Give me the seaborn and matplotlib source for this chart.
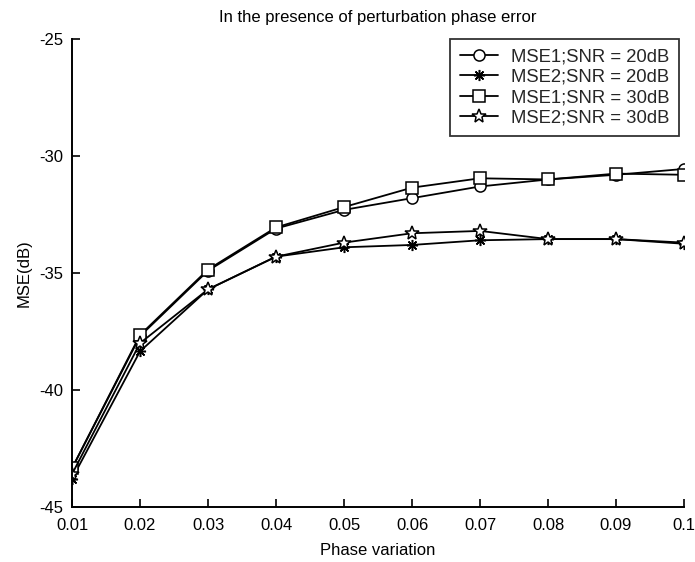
import numpy as np
import pandas as pd
import matplotlib
matplotlib.use("Agg")
import matplotlib.pyplot as plt
import seaborn as sns

# Phase variation levels
phase = [0.01, 0.02, 0.03, 0.04, 0.05, 0.06, 0.07, 0.08, 0.09, 0.10]

# MSE in dB for each estimator / SNR combination
mse1_20 = [-43.35, -37.70, -34.90, -33.10, -32.30, -31.80, -31.30, -31.00, -30.80, -30.55]
mse2_20 = [-43.80, -38.35, -35.70, -34.30, -33.90, -33.80, -33.60, -33.55, -33.55, -33.75]
mse1_30 = [-43.35, -37.65, -34.85, -33.05, -32.18, -31.35, -30.95, -31.00, -30.75, -30.80]
mse2_30 = [-43.60, -38.00, -35.70, -34.30, -33.70, -33.30, -33.20, -33.55, -33.55, -33.70]

labels = ["MSE1;SNR = 20dB", "MSE2;SNR = 20dB", "MSE1;SNR = 30dB", "MSE2;SNR = 30dB"]
xticks = [0.01, 0.02, 0.03, 0.04, 0.05, 0.06, 0.07, 0.08, 0.09, 0.1]
xtick_labels = ["0.01", "0.02", "0.03", "0.04", "0.05", "0.06", "0.07", "0.08", "0.09", "0.1"]
yticks = [-45, -40, -35, -30, -25]

sns.set_theme(style="white")
plt.rcParams["font.family"] = ["Liberation Sans", "DejaVu Sans"]
plt.rcParams["axes.unicode_minus"] = False

frames = []
for lab, vals in zip(labels, [mse1_20, mse2_20, mse1_30, mse2_30]):
    frames.append(pd.DataFrame({"phase": phase, "mse": vals, "series": lab}))
df = pd.concat(frames, ignore_index=True)

fig = plt.figure(figsize=(6.95, 5.62), dpi=100)
ax = fig.add_axes([0.1036, 0.098, 0.8806, 0.8324])

asterisk = (8, 2, 0)
styles = {
    labels[0]: dict(marker="o", ms=8, mfc="white"),
    labels[1]: dict(marker=asterisk, ms=8, mfc="black"),
    labels[2]: dict(marker="s", ms=8, mfc="white"),
    labels[3]: dict(marker="*", ms=10, mfc="white"),
}
for lab in labels:
    sub = df[df["series"] == lab]
    st = styles[lab]
    sns.lineplot(data=sub, x="phase", y="mse", ax=ax, color="black", lw=1.3,
                 marker=st["marker"], markersize=st["ms"], markerfacecolor=st["mfc"],
                 markeredgecolor="black", markeredgewidth=1.1, label=lab)

ax.set_xlim(0.01, 0.1)
ax.set_ylim(-45, -25)
ax.set_xticks(xticks)
ax.set_xticklabels(xtick_labels)
ax.set_yticks(yticks)
ax.tick_params(direction="in", length=6, width=1.2, colors="black", labelsize=12,
               bottom=True, left=True)
ax.tick_params(axis="x", pad=8)
ax.tick_params(axis="y", pad=6)
for side in ["top", "right"]:
    ax.spines[side].set_visible(False)
for side in ["left", "bottom"]:
    ax.spines[side].set_color("black")
    ax.spines[side].set_linewidth(1.4)

ax.set_xlabel("Phase variation", fontsize=12, color="black", labelpad=7)
ax.set_ylabel("MSE(dB)", fontsize=12, color="black", labelpad=6)
ax.set_title("In the presence of perturbation phase error", fontsize=12, color="black", pad=12)

leg = ax.legend(loc="upper right", bbox_to_anchor=(0.992, 1.0), borderaxespad=0,
                fontsize=13.3, frameon=True, fancybox=False, edgecolor="black",
                handlelength=2.1, borderpad=0.5, labelspacing=0.18, handletextpad=0.7)
leg.get_frame().set_linewidth(1.3)
leg.get_frame().set_facecolor("white")

fig.savefig("out.png", dpi=100, facecolor="white")
